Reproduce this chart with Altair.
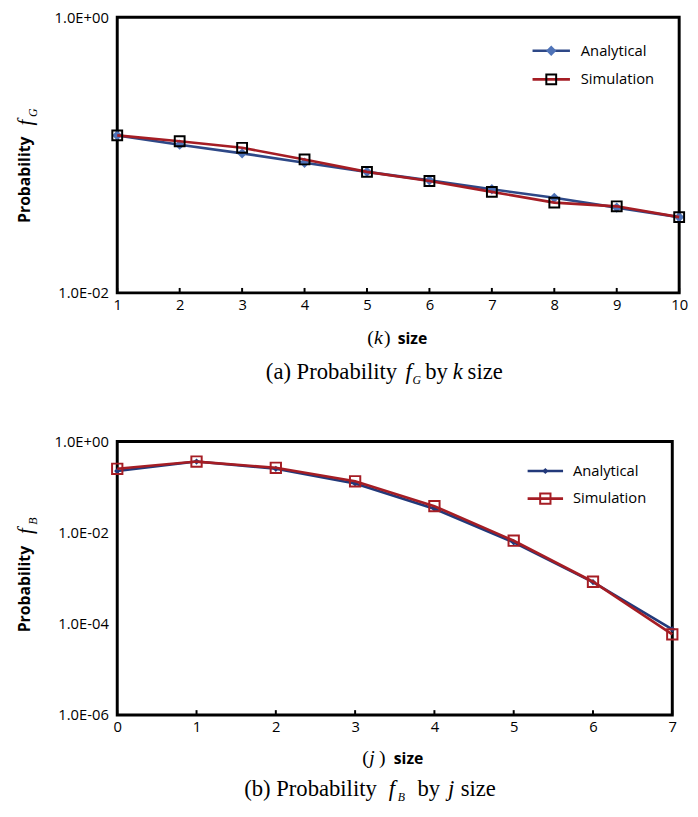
import altair as alt
import pandas as pd

# ---------------- data ----------------
k_sizes = [1, 2, 3, 4, 5, 6, 7, 8, 9, 10]
fg_analytical = [0.139, 0.119, 0.103, 0.088, 0.0756, 0.0656, 0.0565, 0.049, 0.0416, 0.0355]
fg_simulation = [0.139, 0.126, 0.113, 0.093, 0.0756, 0.0649, 0.0541, 0.0452, 0.0425, 0.0355]

j_sizes = [0, 1, 2, 3, 4, 5, 6, 7]
fb_analytical = [0.225, 0.363, 0.252, 0.120, 0.0334, 0.00614, 0.000826, 0.000076]
fb_simulation = [0.252, 0.363, 0.265, 0.134, 0.0381, 0.00667, 0.00084, 0.000059]

series_names = ["Analytical", "Simulation"]
top_y_ticks = [0.01, 1]
bottom_y_ticks = [1e-6, 1e-4, 1e-2, 1]

LABEL_EXPR = ("'1.0E' + (datum.value >= 1 ? '+' : '-') + "
              "(abs(round(log(datum.value)/LN10)) < 10 ? '0' : '') + "
              "abs(round(log(datum.value)/LN10))")

SANS = "Open Sans"
SERIF = "Liberation Serif"
dummy = pd.DataFrame({"a": [0]})


def txt(s, x, y, font=SERIF, size=20, style="normal", weight="normal",
        align="left", baseline="alphabetic", angle=0):
    return alt.Chart(dummy).mark_text(
        text=s, font=font, fontSize=size, fontStyle=style, fontWeight=weight,
        align=align, baseline=baseline, angle=angle, color="black"
    ).encode(x=alt.value(x), y=alt.value(y))


def panel(xs, ana, sim, xdom, ydom, yticks, W, H, st):
    df = pd.DataFrame({
        "x": xs + xs,
        "p": ana + sim,
        "series": [series_names[0]] * len(xs) + [series_names[1]] * len(xs),
    })
    xenc = alt.X("x:Q", scale=alt.Scale(domain=xdom, nice=False, zero=False),
                 axis=alt.Axis(values=xs, title=None, labelPadding=5, format="d",
                               labelFlush=False, grid=False, ticks=False, domain=False))
    yenc = alt.Y("p:Q", scale=alt.Scale(type="log", domain=ydom, nice=False),
                 axis=alt.Axis(values=yticks, labelExpr=LABEL_EXPR, title=None,
                               labelFlush=False, labelPadding=9, grid=False,
                               ticks=False, domain=False))
    base = alt.Chart(df).encode(x=xenc, y=yenc)
    ana_df = base.transform_filter(alt.datum.series == series_names[0])
    sim_df = base.transform_filter(alt.datum.series == series_names[1])

    ana_line = ana_df.mark_line(color=st["ana_line"], strokeWidth=2.7)
    ana_pts = ana_df.mark_point(shape="diamond", filled=True, size=st["dsize"],
                                color=st["ana_marker"], opacity=1)
    sim_line = sim_df.mark_line(color=st["sim_line"], strokeWidth=2.7)
    sim_pts = sim_df.mark_point(shape="square", filled=False, size=st["ssize"],
                                stroke=st["sim_marker"], strokeWidth=2, opacity=1)

    tick_rules = alt.Chart(pd.DataFrame({"x": xs})).mark_rule(
        color="black", strokeWidth=2
    ).encode(x=xenc, y=alt.value(H), y2=alt.value(H - 5))

    lx0, lx1, lmx, ltx = st["leg_x"]
    ly0, ly1 = st["leg_y"]
    legend = [
        alt.Chart(dummy).mark_rule(color=st["ana_line"], strokeWidth=2.7).encode(
            x=alt.value(lx0), x2=alt.value(lx1), y=alt.value(ly0)),
        alt.Chart(dummy).mark_point(shape="diamond", filled=True, size=st["dsize"],
                                    color=st["ana_marker"], opacity=1).encode(
            x=alt.value(lmx), y=alt.value(ly0)),
        alt.Chart(dummy).mark_rule(color=st["sim_line"], strokeWidth=2.7).encode(
            x=alt.value(lx0), x2=alt.value(lx1), y=alt.value(ly1)),
        alt.Chart(dummy).mark_point(shape="square", filled=False, size=st["ssize"],
                                    stroke=st["sim_marker"], strokeWidth=2, opacity=1).encode(
            x=alt.value(lmx), y=alt.value(ly1)),
        txt(series_names[0], ltx, ly0, font=SANS, size=15, baseline="middle"),
        txt(series_names[1], ltx, ly1, font=SANS, size=15, baseline="middle"),
    ]

    texts = []
    # y axis title (rotated)
    yt = st["ytitle"]
    texts.append(txt("Probability", yt["x"], yt["py"], font=SANS, size=16, weight="bold",
                     align="center", baseline="middle", angle=270))
    texts.append(txt("f", yt["x"] + 1, yt["fy"], font=SERIF, size=21, style="italic",
                     align="center", baseline="middle", angle=270))
    texts.append(txt(st["sub"], yt["x"] + 8, yt["fy"] - 10, font=SERIF, size=12,
                     style="italic", align="center", baseline="middle", angle=270))
    # x axis title
    xt = st["xtitle"]
    texts.append(txt("(", xt["x"][0], xt["y"], size=20))
    texts.append(txt(st["var"], xt["x"][1], xt["y"], size=20, style="italic"))
    texts.append(txt(")", xt["x"][2], xt["y"], size=20))
    texts.append(txt("size", xt["x"][3], xt["y"], font=SANS, size=16, weight="bold"))
    # caption
    cp = st["cap"]
    texts.append(txt(st["cap_lead"] + " Probability", cp["x"][0], cp["y"], size=23))
    texts.append(txt("f", cp["x"][1], cp["y"], size=23, style="italic"))
    texts.append(txt(st["sub"], cp["x"][2], cp["y"] + 5, size=12, style="italic"))
    texts.append(txt("by", cp["x"][3], cp["y"], size=23))
    texts.append(txt(st["var"], cp["x"][4], cp["y"], size=23, style="italic"))
    texts.append(txt("size", cp["x"][5], cp["y"], size=23))

    return alt.layer(ana_line, ana_pts, sim_line, sim_pts, tick_rules,
                     *legend, *texts).properties(width=W, height=H)


top_style = dict(
    ana_line="#2E4887", ana_marker="#4F73B8", sim_line="#A51D24", sim_marker="black",
    dsize=110, ssize=100,
    leg_x=(422, 460, 441, 471), leg_y=(34, 63),
    ytitle=dict(x=-94, py=165, fy=107),
    sub="G", var="k",
    xtitle=dict(x=(254, 261, 271, 285), y=332),
    cap_lead="(a)",
    cap=dict(x=(151, 293, 300, 313, 341, 356), y=368),
)
bottom_style = dict(
    ana_line="#22397A", ana_marker="#22397A", sim_line="#A51D24", sim_marker="#A51D24",
    dsize=40, ssize=110,
    leg_x=(417, 453, 435, 463), leg_y=(30, 58),
    ytitle=dict(x=-94, py=150, fy=91),
    sub="B", var="j",
    xtitle=dict(x=(249, 256, 266, 281), y=328),
    cap_lead="(b)",
    cap=dict(x=(129, 276, 285, 305, 336, 349), y=360),
)

top = panel(k_sizes, fg_analytical, fg_simulation, [1, 10], [0.01, 1], top_y_ticks,
            571, 280, top_style)
bottom = panel(j_sizes, fb_analytical, fb_simulation, [0, 7], [1e-6, 1], bottom_y_ticks,
               564, 278, bottom_style)

chart = alt.vconcat(top, bottom, spacing=45).properties(
    padding={"left": 5, "top": -6, "right": 0, "bottom": 0},
    background="white",
).configure_view(
    stroke="black", strokeWidth=3
).configure_axis(
    domain=False, ticks=False, grid=False,
    labelFont=SANS, labelFontSize=15, labelColor="black"
)

chart.save("out.html", embed_options={"renderer": "svg", "actions": False})
